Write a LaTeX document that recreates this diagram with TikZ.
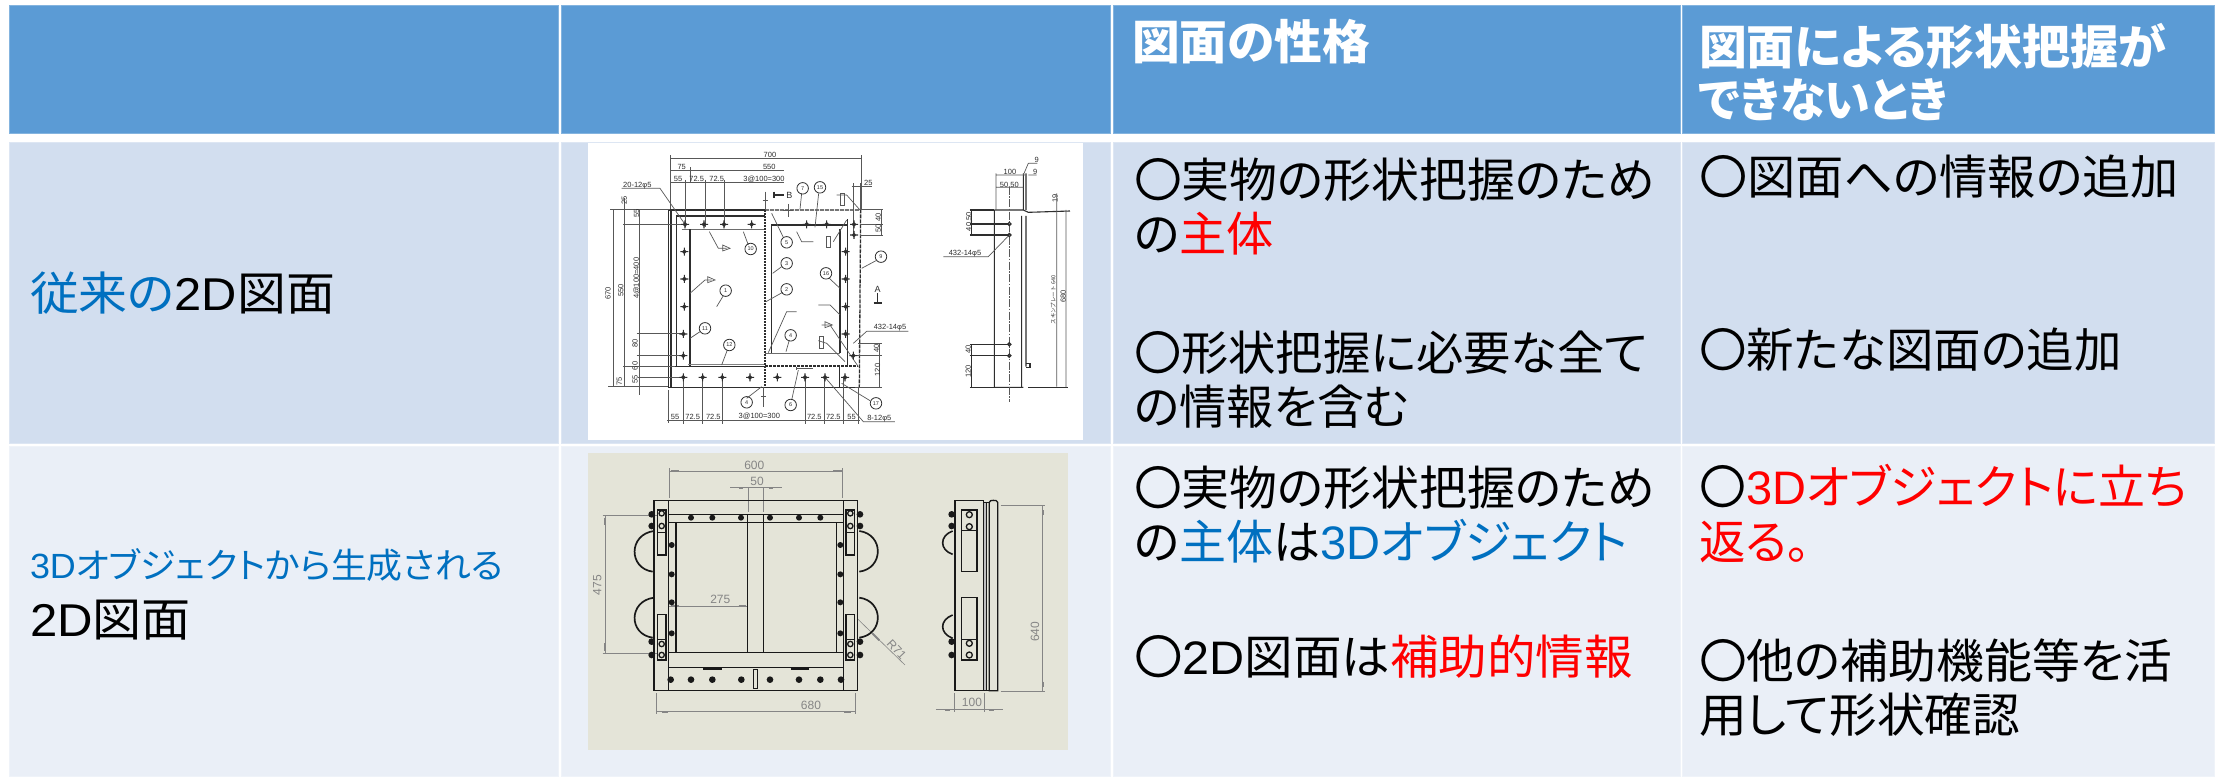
\documentclass[tikz,border=0pt]{standalone}
\usepackage{graphicx}
\usepackage{fontspec}
\setmainfont{Noto Sans CJK JP}[RawFeature=+palt]
\newfontfamily\lat{Liberation Sans}
\newfontfamily\dimjp{Noto Sans CJK JP}
\definecolor{hdr}{HTML}{5B9BD5}
\definecolor{rowa}{HTML}{D2DEEF}
\definecolor{rowb}{HTML}{EAEFF7}
\definecolor{beige}{HTML}{E4E4D8}
\definecolor{txtblue}{HTML}{0070C0}
\definecolor{txtred}{HTML}{FF0000}
\definecolor{ink}{HTML}{2E2E2E}
\definecolor{dimg}{HTML}{858585}
\newcommand{\La}[1]{{\lat #1}}
\newcommand{\Bl}[1]{\textcolor{txtblue}{#1}}
\newcommand{\Rd}[1]{\textcolor{txtred}{#1}}
\newcommand{\fitline}[2]{\resizebox{#1bp}{\height}{#2}}
\tikzset{
  tx/.style={anchor=base west,inner sep=0pt,outer sep=0pt,font=\fontsize{47bp}{47bp}\selectfont},
  hx/.style={tx,text=white,font=\fontsize{47bp}{47bp}\selectfont\bfseries},
  lnA/.style={draw=ink,line width=1.1bp},
  lnB/.style={draw=ink!80,line width=0.7bp},
  dA/.style={font=\lat\fontsize{7.5bp}{7.5bp}\selectfont,text=ink,inner sep=0pt},
  frameB/.style={draw=black!90,line width=1.3bp},
  frameC/.style={draw=black!90,line width=0.9bp},
  dimB/.style={draw=dimg,line width=0.6bp},
  tipB/.style={draw=dimg,line width=1.8bp},
  dB/.style={font=\lat\fontsize{12bp}{12bp}\selectfont,text=dimg,inner sep=0pt},
  holeB/.style={fill=black!90,draw=none},
}
\newcommand{\cellrect}[6]{\fill[#6] (#2,#3) rectangle (#4,#5); \draw[#6!75!white,line width=0.7bp] (#2,#3) rectangle (#4,#5); \coordinate (#1) at (#2,#3);}
\begin{document}
\begin{tikzpicture}[x=1bp,y=-1bp]
\useasboundingbox (0,0) rectangle (2218,778);
\fill[white] (0,0) rectangle (2218,778);
% table cells
\cellrect{ha}{9}{5}{558}{133}{hdr}
\cellrect{hb}{561}{5}{1110}{133}{hdr}
\cellrect{hc}{1113}{5}{1680}{133}{hdr}
\cellrect{hd}{1682}{5}{2214}{133}{hdr}
\cellrect{aa}{9}{142}{558}{443}{rowa}
\cellrect{ab}{561}{142}{1110}{443}{rowa}
\cellrect{ac}{1113}{142}{1680}{443}{rowa}
\cellrect{ad}{1682}{142}{2214}{443}{rowa}
\cellrect{ba}{9}{446}{558}{776}{rowb}
\cellrect{bb}{561}{446}{1110}{776}{rowb}
\cellrect{bc}{1113}{446}{1680}{776}{rowb}
\cellrect{bd}{1682}{446}{2214}{776}{rowb}
% text
\node[hx] (h3) at (1132,60) {\fitline{238}{図面の性格}};
\node[hx] (h4a) at (1699,64) {\fitline{467}{図面による形状把握が}};
\node[hx] (h4b) at (1699,117) {\fitline{249}{できないとき}};
\node[tx,font=\fontsize{46bp}{46bp}\selectfont] (l1) at (30,310) {\fitline{305}{\Bl{従来の}\La{2D}図面}};
\node[tx,font=\fontsize{35bp}{35bp}\selectfont] (l2) at (30,578) {\fitline{473}{\Bl{\La{3D}オブジェクトから生成される}}};
\node[tx,font=\fontsize{46bp}{46bp}\selectfont] (l3) at (30,636) {\fitline{161}{\La{2D}図面}};
\node[tx] (a1) at (1134,197) {\fitline{521}{〇実物の形状把握のため}};
\node[tx] (a2) at (1134,251) {\fitline{140}{の\Rd{主体}}};
\node[tx] (a3) at (1134,370) {\fitline{514}{〇形状把握に必要な全て}};
\node[tx] (a4) at (1134,424) {\fitline{275}{の情報を含む}};
\node[tx] (a5) at (1699,194) {\fitline{480}{〇図面への情報の追加}};
\node[tx] (a6) at (1699,367) {\fitline{423}{〇新たな図面の追加}};
\node[tx] (b1) at (1134,505) {\fitline{521}{〇実物の形状把握のため}};
\node[tx] (b2) at (1134,559) {\fitline{494}{の\Bl{主体}は\Bl{\La{3D}オブジェクト}}};
\node[tx] (b3) at (1134,674) {\fitline{499}{〇\La{2D}図面は\Rd{補助的情報}}};
\node[tx] (b4) at (1699,504) {\fitline{488}{〇\Rd{\La{3D}オブジェクトに立ち}}};
\node[tx] (b5) at (1699,559) {\fitline{111}{\Rd{返る。}}};
\node[tx] (b6) at (1699,678) {\fitline{473}{〇他の補助機能等を活}};
\node[tx] (b7) at (1699,732) {\fitline{321}{用して形状確認}};
% ---------- old 2D drawing
\fill[white] (588,143) rectangle (1083,440);
\begin{scope}[shift={(580,130)},x=0.33333bp,y=-0.33333bp]
 % outline
 \draw[lnA] (265,240)--(265,772)--(840,772);
 \draw[lnA] (273,240)--(273,772);
 \draw[lnA,line width=1.3bp] (268,240)--(555,240);
 \draw[lnA,line width=1.3bp,dash pattern=on 4bp off 1bp] (555,240)--(842,240)--(838,772);
 \draw[lnA] (290,710)--(290,258)--(555,258);
 \draw[lnA,line width=1.4bp,draw=ink!70] (305,298)--(555,298);
 \draw[lnA,line width=1.3bp] (330,298)--(330,710);
 \draw[lnA] (285,710)--(555,710);
 \draw[lnA,draw=ink!60] (325,704)--(555,704);
 \draw[lnA,dash pattern=on 2bp off 1bp] (555,240)--(555,770);
 \draw[lnA] (575,670)--(575,285)--(800,285);
 \draw[lnA,line width=1.4bp,draw=ink!70] (555,670)--(780,670);
 \draw[lnA] (780,298)--(780,670);
 \draw[lnA] (802,268)--(802,708);
 \draw[lnA,dash pattern=on 3bp off 1bp] (555,708)--(832,708);
 \draw[lnA] (778,708)--(778,772);
 % dimensions
 \draw[lnB] (272,85)--(845,85) (272,75)--(272,238) (845,75)--(845,238);
 \draw[lnB] (272,122)--(612,122) (330,112)--(330,160);
 \draw[lnB] (272,158)--(612,158) (315,150)--(315,290) (375,150)--(375,290) (432,150)--(432,290);
 \draw[lnB] (125,175)--(240,175)--(315,283);
 \draw[lnB] (100,240)--(100,770) (133,205)--(133,770) (178,240)--(178,795);
 \draw[lnB] (90,238)--(270,238) (130,283)--(315,283) (170,610)--(315,610) (170,677)--(315,677) (130,708)--(285,708) (175,742)--(310,742) (85,770)--(265,770);
 \draw[lnB] (815,168)--(875,168) (820,160)--(820,320) (840,160)--(840,238);
 \draw[lnB] (840,238)--(910,238) (840,283)--(910,283) (840,315)--(910,315) (905,238)--(905,315);
 \draw[lnB] (835,640)--(905,640) (820,677)--(905,677) (825,772)--(905,772) (897,640)--(897,772);
 \draw[lnB] (265,780)--(265,880) (310,742)--(310,882) (368,742)--(368,882) (427,742)--(427,882) (675,742)--(675,882) (733,742)--(733,882) (790,742)--(790,882) (835,772)--(835,882) (262,872)--(840,872);
 \draw[lnB] (555,185)--(555,240) (548,212)--(564,212) (550,770)--(550,830) (543,800)--(558,800);
 % leaders
 \draw[lnB] (388,305)--(415,355)--(440,355) (490,305)--(505,345) (330,490)--(375,450)--(395,450) (410,530)--(430,497) (330,625)--(360,605) (425,705)--(442,660) (500,805)--(545,770) (578,430)--(605,410) (558,515)--(608,487) (565,668)--(620,545)--(650,545) (618,665)--(628,630) (575,250)--(610,322) (650,305)--(665,335)--(700,335) (760,335)--(800,270) (780,475)--(748,445) (780,555)--(750,525)--(715,525) (835,710)--(750,585)--(725,585) (795,695)--(740,640)--(715,632) (655,720)--(635,810) (785,760)--(870,812) (735,742)--(850,875)--(945,875) (845,415)--(888,392) (770,195)--(800,195)--(840,240) (660,238)--(665,190) (705,292)--(716,190) (820,640)--(860,604)--(985,604);
 \draw[lnB] (625,222)--(625,262) (610,240)--(640,240);
 \draw[lnB] (650,716)--(700,716) (650,712)--(650,720);
 % small weld marks
 \foreach \a/\b in {738/318,718/620,780/190}{\draw[lnB] (\a,\b) rectangle (\a+13,\b+35);}
 \foreach \a/\b in {428/355,383/450,735/585}{\draw[lnB] (\a,\b-10)--(\a+22,\b)--(\a,\b+8)--cycle;}
 % A / B markers
 \draw[lnA] (893,490)--(893,518) (881,519)--(905,519);
 \draw[lnA] (582,195)--(612,195) (582,185)--(582,205);
 \node[dA,font=\lat\fontsize{9bp}{9bp}\selectfont] (mA) at (893,477) {A};
 \node[dA,font=\lat\fontsize{9bp}{9bp}\selectfont] (mB) at (628,196) {B};
 % bolt holes
 \foreach \a/\b in {315/283,372/283,432/283,515/283,680/283,740/283,822/283,822/315,313/365,313/447,313/530,310/612,310/677,797/365,797/447,797/530,797/612,820/677,310/742,368/742,427/742,510/742,592/742,675/742,735/742,795/742}{
   \draw[lnA] (\a-12,\b)--(\a+12,\b) (\a,\b-12)--(\a,\b+12) (\a,\b) circle[radius=5];}
 % circled numbers
 \foreach \a/\b/\c in {668/175/7,720/172/15,620/337/5,620/400/3,620/478/2,512/357/10,437/482/1,375/595/11,448/645/12,632/616/4,738/430/16,903/380/9,500/817/4,632/825/6,888/820/17}{
   \node[dA,draw=ink,circle,minimum size=11.5bp,line width=0.8bp,font=\lat\fontsize{5.5bp}{5.5bp}\selectfont] (c\a) at (\a,\b) {\c};}
 % labels
 \foreach \a/\b/\c in {570/74/700,305/112/75,568/112/550,294/148/55,350/148/72.5,410/148/72.5,552/148/3@100=300,172/167/20-12φ5,865/158/25,285/860/55,338/860/72.5,400/860/72.5,538/860/3@100=300,703/860/72.5,760/860/72.5,815/860/55,898/866/8-12φ5,930/593/432-14φ5,1155/372/432-14φ5,1290/127/100,1288/165/50{,}50,1370/90/9,1366/125/9}{
   \node[dA] (t\a) at (\a,\b) {\c};}
 \foreach \a/\b/\c in {84/490/670,122/482/550,170/445/4@100=400,133/212/25,170/250/55,165/640/80,165/708/60,165/748/55,118/755/75,895/263/40,895/295/50,890/655/40,893/720/120,1425/205/19,1450/500/680,1168/275/40{,}50,1165/658/40,1165/725/120}{
   \node[dA,rotate=90] (r\a) at (\a,\b) {\c};}
 \node[dA,rotate=90,font=\dimjp\fontsize{5.5bp}{5.5bp}\selectfont] (skin) at (1420,510) {スキンプレート 640};
 % side view
 \draw[lnA] (1243,240)--(1243,772)--(1330,772) (1243,240)--(1330,240) (1325,258)--(1325,772) (1338,258)--(1338,710) (1330,130)--(1330,240)--(1345,247)--(1470,243) (1338,130)--(1338,240);
 \draw[lnA] (1345,772)--(1465,772) (1338,700)--(1350,700)--(1350,712)--(1338,712);
 \draw[lnB,dash pattern=on 8bp off 1.5bp on 1.5bp off 1.5bp] (1288,170)--(1288,815);
 \draw[lnB] (1248,135)--(1335,135) (1248,172)--(1330,172) (1248,130)--(1248,240) (1345,100)--(1330,135) (1345,100)--(1372,100) (1345,135)--(1370,135) (1430,190)--(1430,770) (1458,240)--(1458,772);
 \draw[lnB] (1090,380)--(1225,380)--(1288,315);
 \draw[lnA] (1175,240)--(1175,315) (1170,240)--(1243,240) (1170,282)--(1288,282) (1170,315)--(1288,315) (1175,643)--(1175,772) (1170,643)--(1288,643) (1170,677)--(1288,677) (1170,772)--(1243,772);
 \foreach \b in {282,315,643,677}{\draw[lnA] (1288,\b) circle[radius=5];}
\end{scope}
% ---------- generated 2D drawing
\fill[beige] (588,453) rectangle (1068,750);
\begin{scope}[shift={(580,445)},x=0.33333bp,y=-0.33333bp]
 % dims
 \draw[dimB] (267,78)--(788,78) (267,70)--(267,158) (788,70)--(788,158);
 \draw[tipB] (272,78)--(297,78) (760,78)--(785,78);
 \draw[dimB] (450,128)--(605,128) (506,130)--(506,200) (549,130)--(549,200);
 \draw[tipB] (476,128)--(490,128) (566,128)--(580,128);
 \draw[dimB] (75,212)--(75,625) (68,212)--(232,212) (68,625)--(232,625);
 \draw[tipB] (75,220)--(75,240) (75,595)--(75,617);
 \draw[dimB] (267,483)--(503,483);
 \draw[tipB] (272,483)--(296,483) (476,483)--(498,483);
 \draw[dimB] (230,800)--(826,800) (230,745)--(230,808) (826,745)--(826,808);
 \draw[tipB] (245,800)--(265,800) (793,800)--(813,800);
 \draw[dimB] (833,522)--(975,660);
 \draw[tipB] (878,566)--(898,586);
 \draw[dimB] (1388,180)--(1388,740) (1262,180)--(1395,180) (1262,740)--(1395,740);
 \draw[tipB] (1388,195)--(1388,210) (1388,710)--(1388,725);
 \draw[dimB] (1068,794)--(1268,794) (1123,745)--(1123,800) (1212,745)--(1212,800);
 \draw[tipB] (1094,794)--(1110,794) (1228,794)--(1243,794);
 \node[dB] (d600) at (523,60) {600};
 \node[dB] (d50) at (531,108) {50};
 \node[dB,rotate=90] (d475) at (52,420) {475};
 \node[dB] (d275) at (421,462) {275};
 \node[dB] (d680) at (693,780) {680};
 \node[dB,rotate=-47] (dR) at (950,614) {R71};
 \node[dB,rotate=90] (d640) at (1365,560) {640};
 \node[dB] (d100) at (1176,773) {100};
 % bumps behind frame
 \foreach \a in {215,840,1115}{\foreach \b in {208,243,590,630}{\fill[holeB] (\a,\b) circle[radius=10];}}
 % frame
 \draw[frameB] (222,166) rectangle (832,737);
 \draw[frameC] (266,166)--(266,737) (790,166)--(790,737);
 \draw[frameC] (266,208)--(790,208) (266,232)--(790,232);
 \draw[frameC] (503,208)--(503,622);
 \draw[frameB] (551,208)--(551,622);
 \draw[frameB] (288,232)--(288,622);
 \draw[frameC] (768,232)--(768,622);
 \draw[frameB] (266,622)--(790,622);
 \draw[frameC] (266,668)--(790,668);
 \draw[frameC] (520,672) rectangle (533,730);
 \draw[line width=1.6bp,black!90] (222,737)--(832,737);
 \draw[frameB] (370,672)--(425,672) (632,672)--(687,672);
 % holes
 \foreach \a in {333,397,483,570,657,721}{\fill[holeB] (\a,218) circle[radius=9];}
 \foreach \a in {272,333,397,484,570,657,721,783}{\fill[holeB] (\a,704) circle[radius=10];}
 \foreach \a in {275,781}{\foreach \b in {300,388,472,565}{\fill[holeB] (\a,\b) circle[radius=9];}}
 % handles
 \foreach \ya/\yb in {258/380,458/578}{
   \draw[line width=1.7bp,black!90] (222,\ya) .. controls (145,\ya+10) and (145,\yb-10) .. (218,\yb);
   \draw[line width=1.7bp,black!90] (838,\ya) .. controls (912,\ya+10) and (912,\yb-10) .. (838,\yb);
 }
 % clamps
 \foreach \a in {232,798}{
   \draw[frameB,fill=beige] (\a,195) rectangle (\a+26,330);
   \draw[frameB,fill=beige] (\a,508) rectangle (\a+26,645);
   \draw[frameC] (\a,262)--(\a+26,262) (\a,582)--(\a+26,582);
   \foreach \b in {205,243,597,630}{\draw[frameB] (\a+13,\b) circle[radius=8];}
 }
 % side view
 \draw[frameB] (1125,166) rectangle (1210,737);
 \draw[frameC,fill=black!25] (1210,172) rectangle (1220,737);
 \draw[frameC] (1220,172) rectangle (1228,737);
 \draw[frameB] (1228,737) -- (1228,172) to[out=90,in=180] (1240,166) to[out=0,in=90] (1253,172) -- (1253,737) -- cycle;
 \draw[frameB,fill=beige] (1145,195) rectangle (1191,380);
 \draw[frameB,fill=beige] (1145,458) rectangle (1191,645);
 \draw[frameC] (1145,256)--(1191,256) (1145,582)--(1191,582);
 \foreach \b in {209,245,595,630}{\draw[frameB] (1168,\b) circle[radius=9];}
 \draw[line width=1.6bp,black!90] (1118,258) .. controls (1078,272) and (1078,315) .. (1118,328);
 \draw[line width=1.6bp,black!90] (1118,510) .. controls (1078,525) and (1078,565) .. (1118,580);
\end{scope}
\end{tikzpicture}
\end{document}
